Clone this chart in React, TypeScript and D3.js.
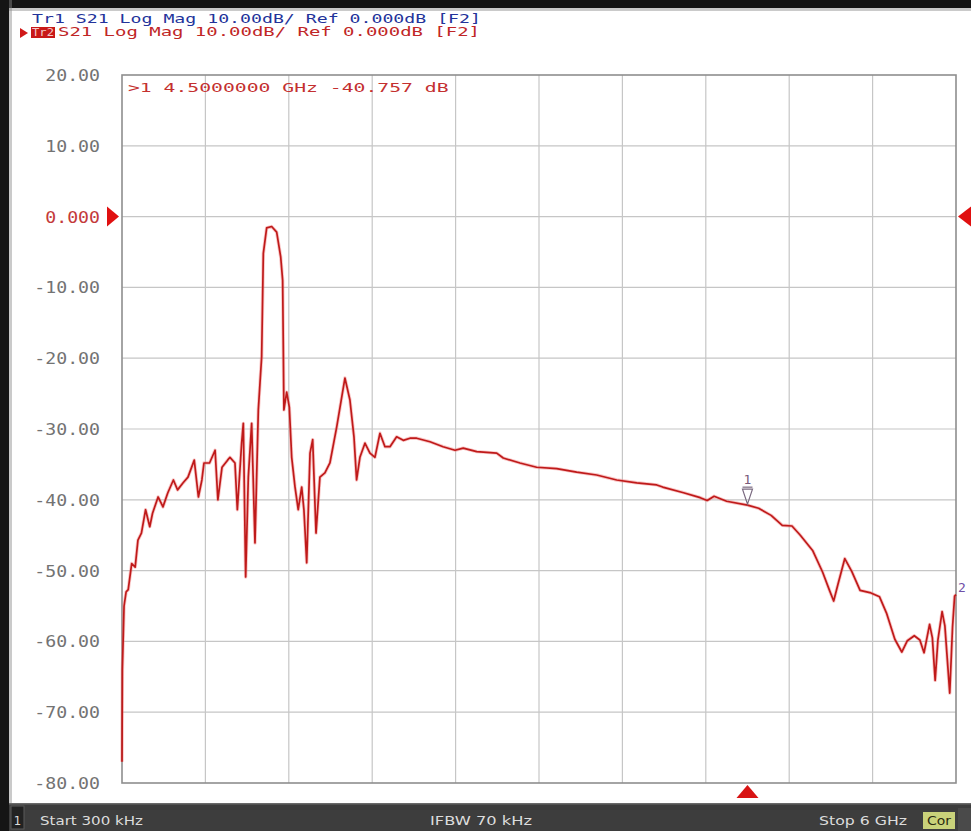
import * as d3 from "d3";

const W = 971;
const H = 831;
const PLOT = { left: 122, right: 956, top: 75, bottom: 783 };

// S21 trace: frequency (GHz) and magnitude (dB)
const freqGHz = [
  0.0003, 0.003, 0.015, 0.03, 0.045, 0.07, 0.095, 0.115, 0.14, 0.17, 0.2, 0.22,
  0.26, 0.295, 0.33, 0.37, 0.4, 0.44, 0.475, 0.52, 0.55, 0.575, 0.59, 0.63,
  0.67, 0.69, 0.72, 0.76, 0.777, 0.813, 0.83, 0.861, 0.873, 0.89, 0.909, 0.933,
  0.957, 0.981, 0.993, 1.005, 1.017, 1.041, 1.077, 1.113, 1.142, 1.156, 1.165,
  1.185, 1.204, 1.221, 1.245, 1.268, 1.293, 1.309, 1.329, 1.353, 1.372, 1.396,
  1.424, 1.46, 1.496, 1.545, 1.581, 1.604, 1.64, 1.669, 1.688, 1.712, 1.748,
  1.784, 1.82, 1.856, 1.892, 1.928, 1.976, 2.024, 2.072, 2.12, 2.216, 2.31,
  2.396, 2.455, 2.552, 2.696, 2.743, 2.863, 2.983, 3.127, 3.271, 3.415, 3.559,
  3.703, 3.847, 3.89, 4.04, 4.16, 4.21, 4.26, 4.35, 4.5, 4.58, 4.67, 4.75, 4.82,
  4.88, 4.97, 5.04, 5.09, 5.12, 5.15, 5.2, 5.25, 5.31, 5.38, 5.45, 5.5, 5.56,
  5.61, 5.65, 5.7, 5.74, 5.77, 5.81, 5.83, 5.85, 5.87, 5.9, 5.92, 5.955, 5.975,
  5.99, 6.0,
];
const s21dB = [
  -77, -64, -55, -53, -52.7, -49, -49.5, -45.7, -44.7, -41.4, -43.8, -41.9,
  -39.6, -41, -39, -37.2, -38.6, -37.6, -36.8, -34.4, -39.6, -37.2, -34.8, -34.8,
  -33, -40, -35.4, -34.4, -34, -34.8, -41.4, -32, -29.2, -50.9, -36.8, -29.2,
  -46.1, -27.3, -23.5, -19.8, -5.2, -1.6, -1.4, -2.2, -5.7, -9, -27.3,
  -24.8, -26.9, -34, -38.2, -41.4, -38.2, -41.4, -48.9, -33.4, -31.5, -44.7,
  -36.8, -36.2, -34.8, -29.7, -25.5, -22.8, -25.9, -31.1, -37.2, -34, -32,
  -33.4, -34, -30.6, -32.5, -32.5, -31.1, -31.6, -31.3, -31.3, -31.8, -32.5,
  -33, -32.7, -33.2, -33.4, -34.1, -34.8, -35.4, -35.6, -36.1, -36.5, -37.2,
  -37.6, -37.9, -38.2, -39, -39.7, -40.1, -39.5, -40.2, -40.76, -41.2, -42.2, -43.6, -43.7,
  -45, -47.2, -50.2, -52.8, -54.3, -52, -48.3, -50.1, -52.8, -53.1, -53.7, -56, -59.7,
  -61.5, -59.9, -59.2, -59.8, -61.6, -57.6, -59.5, -65.5, -59.8, -55.8, -57.8, -67.3, -58,
  -53.6, -53.4,
];

const yTickValues = [20, 10, 0, -10, -20, -30, -40, -50, -60, -70, -80];
const yTickLabels = ["20.00", "10.00", "0.000", "-10.00", "-20.00", "-30.00", "-40.00", "-50.00", "-60.00", "-70.00", "-80.00"];

const header1 = "Tr1 S21 Log Mag 10.00dB/ Ref 0.000dB [F2]";
const header2 = "S21 Log Mag 10.00dB/ Ref 0.000dB [F2]";
const markerReadout = ">1  4.5000000 GHz -40.757 dB";
const marker1 = { f: 4.5, db: -40.757 };
const marker2 = { f: 6.0, db: -53.4 };

const MONO = "'DejaVu Sans Mono', monospace";
const SANS = "'DejaVu Sans Condensed', 'DejaVu Sans', sans-serif";
const CHAR_W = 10.95;

export default function App() {
  const x = d3.scaleLinear().domain([0.0003, 6]).range([PLOT.left, PLOT.right]);
  const y = d3.scaleLinear().domain([-80, 20]).range([PLOT.bottom, PLOT.top]);

  const pts = freqGHz.map((f, i) => [f, s21dB[i]] as [number, number]);
  const line = d3.line<[number, number]>().x((d) => x(d[0])).y((d) => y(d[1]));
  const path = line(pts) || "";

  const xDivs = d3.range(1, 10).map((i) => x(0.0003 + (i * (6 - 0.0003)) / 10));

  const m1x = x(marker1.f);
  const m1y = y(marker1.db);
  const m2y = y(marker2.db);
  const refY = y(0);

  return (
    <svg width={W} height={H} style={{ position: "absolute", left: 0, top: 0, background: "#fff" }}>
      <rect x={0} y={0} width={W} height={H} fill="#fff" />
      {/* screen frame */}
      <rect x={0} y={0} width={W} height={8} fill="#151515" />
      <rect x={0} y={8} width={W} height={3} fill="#8a8a8a" opacity={0.45} />
      <rect x={0} y={0} width={9} height={H} fill="#151515" />
      <rect x={9} y={0} width={3} height={H} fill="#8a8a8a" opacity={0.45} />

      {/* trace header */}
      <text x={32} y={23} fontFamily={MONO} fontSize={11.5} fill="#23339a" textLength={header1.length * CHAR_W} lengthAdjust="spacingAndGlyphs">
        {header1}
      </text>
      <path d="M20,28 L28,33 L20,38 Z" fill="#d01818" />
      <rect x={31} y={27} width={24} height={11} fill="#c81818" />
      <text x={32} y={36} fontFamily={MONO} fontSize={11} fill="#f4c8c8" textLength={22} lengthAdjust="spacingAndGlyphs">
        Tr2
      </text>
      <text x={58} y={36} fontFamily={MONO} fontSize={11.5} fill="#c02626" textLength={422} lengthAdjust="spacingAndGlyphs">
        {header2}
      </text>

      {/* grid */}
      <g stroke="#c6c6c6" strokeWidth={1.2}>
        {xDivs.map((gx, i) => (
          <line key={"vx" + i} x1={gx} x2={gx} y1={PLOT.top} y2={PLOT.bottom} />
        ))}
        {yTickValues.slice(1, -1).map((v) => (
          <line key={"hy" + v} x1={PLOT.left} x2={PLOT.right} y1={y(v)} y2={y(v)} />
        ))}
      </g>
      <rect x={PLOT.left} y={PLOT.top} width={PLOT.right - PLOT.left} height={PLOT.bottom - PLOT.top} fill="none" stroke="#8e8e8e" strokeWidth={1.6} />

      {/* y labels */}
      {yTickValues.map((v, i) => (
        <text
          key={"yl" + v}
          x={100 - yTickLabels[i].length * CHAR_W}
          y={y(v) + 6}
          fontFamily={MONO}
          fontSize={15}
          fill={v === 0 ? "#c43a3a" : "#737373"}
          textLength={yTickLabels[i].length * CHAR_W}
          lengthAdjust="spacingAndGlyphs"
        >
          {yTickLabels[i]}
        </text>
      ))}

      {/* reference markers */}
      <path d={`M107,${refY - 10} L119,${refY} L107,${refY + 10} Z`} fill="#e01010" />
      <path d={`M971,${refY - 10} L958,${refY} L971,${refY + 10} Z`} fill="#e01010" />
      <path d={`M${m1x - 11},${PLOT.bottom + 15} L${m1x},${PLOT.bottom + 2} L${m1x + 11},${PLOT.bottom + 15} Z`} fill="#d81414" />

      {/* marker readout */}
      <text x={128} y={92} fontFamily={MONO} fontSize={12.5} fill="#c43030" textLength={markerReadout.length * 11.45} lengthAdjust="spacingAndGlyphs">
        {markerReadout}
      </text>

      {/* trace */}
      <path d={path} fill="none" stroke="#f07070" strokeWidth={3.4} strokeOpacity={0.4} strokeLinejoin="round" />
      <path d={path} fill="none" stroke="#bf1a1a" strokeWidth={1.7} strokeLinejoin="round" />

      {/* marker symbols */}
      <path d={`M${m1x - 5},${m1y - 16} L${m1x + 5},${m1y - 16} L${m1x},${m1y - 1} Z`} fill="none" stroke="#7a6a80" strokeWidth={1.2} />
      <line x1={m1x - 5} x2={m1x + 5} y1={m1y - 18} y2={m1y - 18} stroke="#7a6a80" strokeWidth={1.2} />
      <text x={m1x} y={m1y - 21} textAnchor="middle" fontFamily={MONO} fontSize={13} fill="#7a5a7a">
        1
      </text>
      <text x={958} y={m2y - 3} fontFamily={MONO} fontSize={13} fill="#7050a8">
        2
      </text>

      {/* status bar */}
      <rect x={9} y={803} width={W - 9} height={28} fill="#3d3d3d" />
      <rect x={9} y={803} width={W - 9} height={1.5} fill="#6a6a6a" />
      <rect x={11} y={806} width={13} height={23} fill="#222" stroke="#5a5a5a" />
      <text x={17.5} y={825} textAnchor="middle" fontFamily={SANS} fontSize={13} fill="#dcdcdc">
        1
      </text>
      <text x={40} y={825} fontFamily={SANS} fontSize={13} fill="#dcdcdc" textLength={103} lengthAdjust="spacingAndGlyphs">
        Start 300 kHz
      </text>
      <text x={430} y={825} fontFamily={SANS} fontSize={13} fill="#dcdcdc" textLength={102} lengthAdjust="spacingAndGlyphs">
        IFBW 70 kHz
      </text>
      <text x={819} y={825} fontFamily={SANS} fontSize={13} fill="#dcdcdc" textLength={88} lengthAdjust="spacingAndGlyphs">
        Stop 6 GHz
      </text>
      <rect x={923} y={812} width={32} height={17} fill="#c9d27a" />
      <text x={927} y={825} fontFamily={SANS} fontSize={13} fill="#2a2a10" textLength={24} lengthAdjust="spacingAndGlyphs">
        Cor
      </text>
      <rect x={958} y={808} width={13} height={23} fill="#4a4a4a" />
    </svg>
  );
}
